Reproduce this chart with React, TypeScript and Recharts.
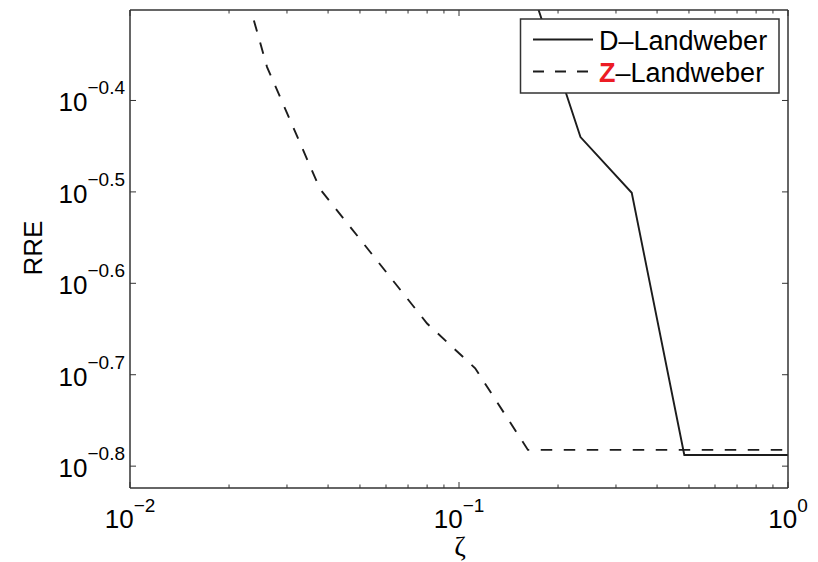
import React from "react"
import { LineChart, Line, XAxis, YAxis } from "recharts"

// D-Landweber (solid)
const dZeta = [0.16, 0.234, 0.335, 0.484, 1]
const dRre = [0.55, 0.363, 0.3155, 0.163, 0.163]

// Z-Landweber (dashed)
const zZeta = [0.0238, 0.0261, 0.0378, 0.08, 0.112, 0.162, 1]
const zRre = [0.487, 0.433, 0.3186, 0.227, 0.2028, 0.1651, 0.1651]

const xDecades = [0.01, 0.1, 1]
const xMinor = [0.02, 0.03, 0.04, 0.05, 0.06, 0.07, 0.08, 0.09, 0.2, 0.3, 0.4, 0.5, 0.6, 0.7, 0.8, 0.9]
const yTickExps = [-0.8, -0.7, -0.6, -0.5, -0.4]

const dData = dZeta.map((z, i) => ({ zeta: z, rre: dRre[i] }))
const zData = zZeta.map((z, i) => ({ zeta: z, rre: zRre[i] }))
const xTicks = [...xDecades, ...xMinor].sort((a, b) => a - b)
const yTicks = yTickExps.map(e => Math.pow(10, e))

const FONT = "'Liberation Sans', Arial, Helvetica, sans-serif"
const INK = "#1c1c1c"
const AXIS = "#333"

const isDecade = (v: number) => xDecades.some(d => Math.abs(d - v) < 1e-9)

function BottomTick(props: any) {
  const { x, payload } = props
  const y = 488
  const v = payload.value
  const major = isDecade(v)
  const exp = Math.round(Math.log10(v))
  return (
    <g>
      <line x1={x} x2={x} y1={y} y2={y - (major ? 6 : 3.5)} stroke={AXIS} strokeWidth={1} />
      {major && (
        <text x={x} y={y + 40} textAnchor="middle" fontFamily={FONT} fontSize={26} fill="#000">
          <tspan>10</tspan>
          <tspan dy={-16} fontSize={19}>{exp < 0 ? "\u2212" + Math.abs(exp) : String(exp)}</tspan>
        </text>
      )}
    </g>
  )
}

function TopTick(props: any) {
  const { x, payload } = props
  const y = 10
  const major = isDecade(payload.value)
  return <line x1={x} x2={x} y1={y} y2={y + (major ? 6 : 3.5)} stroke={AXIS} strokeWidth={1} />
}

function LeftTick(props: any) {
  const { y, payload } = props
  const x = 130
  const exp = Math.log10(payload.value)
  return (
    <g>
      <line x1={x} x2={x + 6} y1={y} y2={y} stroke={AXIS} strokeWidth={1} />
      <text x={x - 5} y={y + 11} textAnchor="end" fontFamily={FONT} fontSize={26} fill="#000">
        <tspan>10</tspan>
        <tspan dy={-17} fontSize={19}>{"\u2212" + Math.abs(exp).toFixed(1)}</tspan>
      </text>
    </g>
  )
}

function RightTick(props: any) {
  const { y } = props
  const x = 788
  return <line x1={x} x2={x - 6} y1={y} y2={y} stroke={AXIS} strokeWidth={1} />
}

function Overlay() {
  return (
    <svg width={818} height={562} style={{ position: "absolute", left: 0, top: 0, pointerEvents: "none" }}>
      <text x={460} y={556} textAnchor="middle" fontFamily="'Liberation Serif', 'DejaVu Serif', serif" fontSize={28} fill="#000">
        ζ
      </text>
      <text x={42} y={248} transform="rotate(-90 42 248)" textAnchor="middle" fontFamily={FONT} fontSize={26} fill="#000">
        RRE
      </text>
      <rect x={520.5} y={19} width={258.5} height={74} fill="#fff" stroke={AXIS} strokeWidth={1.5} />
      <line x1={533} x2={593} y1={39.5} y2={39.5} stroke={INK} strokeWidth={1.8} />
      <line x1={533} x2={593} y1={71.5} y2={71.5} stroke={INK} strokeWidth={1.8} strokeDasharray="11 11" />
      <text x={599} y={50} fontFamily={FONT} fontSize={27} fill="#000">D–Landweber</text>
      <text x={599} y={82} fontFamily={FONT} fontSize={27} fill="#000">
        <tspan fill="#ec1c24" fontWeight="bold">Z</tspan>
        <tspan>–Landweber</tspan>
      </text>
    </svg>
  )
}

const axisLine = { stroke: AXIS, strokeWidth: 1.5 }

export default function App() {
  return (
    <div style={{ position: "absolute", left: 0, top: 0, width: 818, height: 562, background: "#fff" }}>
      <LineChart width={818} height={562} margin={{ top: 9, right: 29, bottom: 73, left: 129 }}>
        <XAxis
          dataKey="zeta"
          type="number"
          scale="log"
          domain={[0.01, 1]}
          allowDataOverflow
          ticks={xTicks}
          interval={0}
          height={1}
          tickSize={0}
          tickMargin={0}
          tickLine={false}
          tick={<BottomTick />}
          axisLine={axisLine}
        />
        <XAxis
          xAxisId="top"
          orientation="top"
          dataKey="zeta"
          type="number"
          scale="log"
          domain={[0.01, 1]}
          allowDataOverflow
          ticks={xTicks}
          interval={0}
          height={1}
          tickSize={0}
          tickMargin={0}
          tickLine={false}
          tick={<TopTick />}
          axisLine={axisLine}
        />
        <YAxis
          type="number"
          scale="log"
          domain={[0.15, 0.5]}
          allowDataOverflow
          ticks={yTicks}
          interval={0}
          width={1}
          tickSize={0}
          tickMargin={0}
          tickLine={false}
          tick={<LeftTick />}
          axisLine={axisLine}
        />
        <YAxis
          yAxisId="right"
          orientation="right"
          type="number"
          scale="log"
          domain={[0.15, 0.5]}
          allowDataOverflow
          ticks={yTicks}
          interval={0}
          width={1}
          tickSize={0}
          tickMargin={0}
          tickLine={false}
          tick={<RightTick />}
          axisLine={axisLine}
        />
        <Line
          data={dData}
          dataKey="rre"
          type="linear"
          stroke={INK}
          strokeWidth={1.9}
          dot={false}
          activeDot={false}
          isAnimationActive={false}
        />
        <Line
          data={zData}
          dataKey="rre"
          type="linear"
          stroke={INK}
          strokeWidth={1.9}
          strokeDasharray="11.5 11.5"
          dot={false}
          activeDot={false}
          isAnimationActive={false}
        />
      </LineChart>
      <Overlay />
    </div>
  )
}
